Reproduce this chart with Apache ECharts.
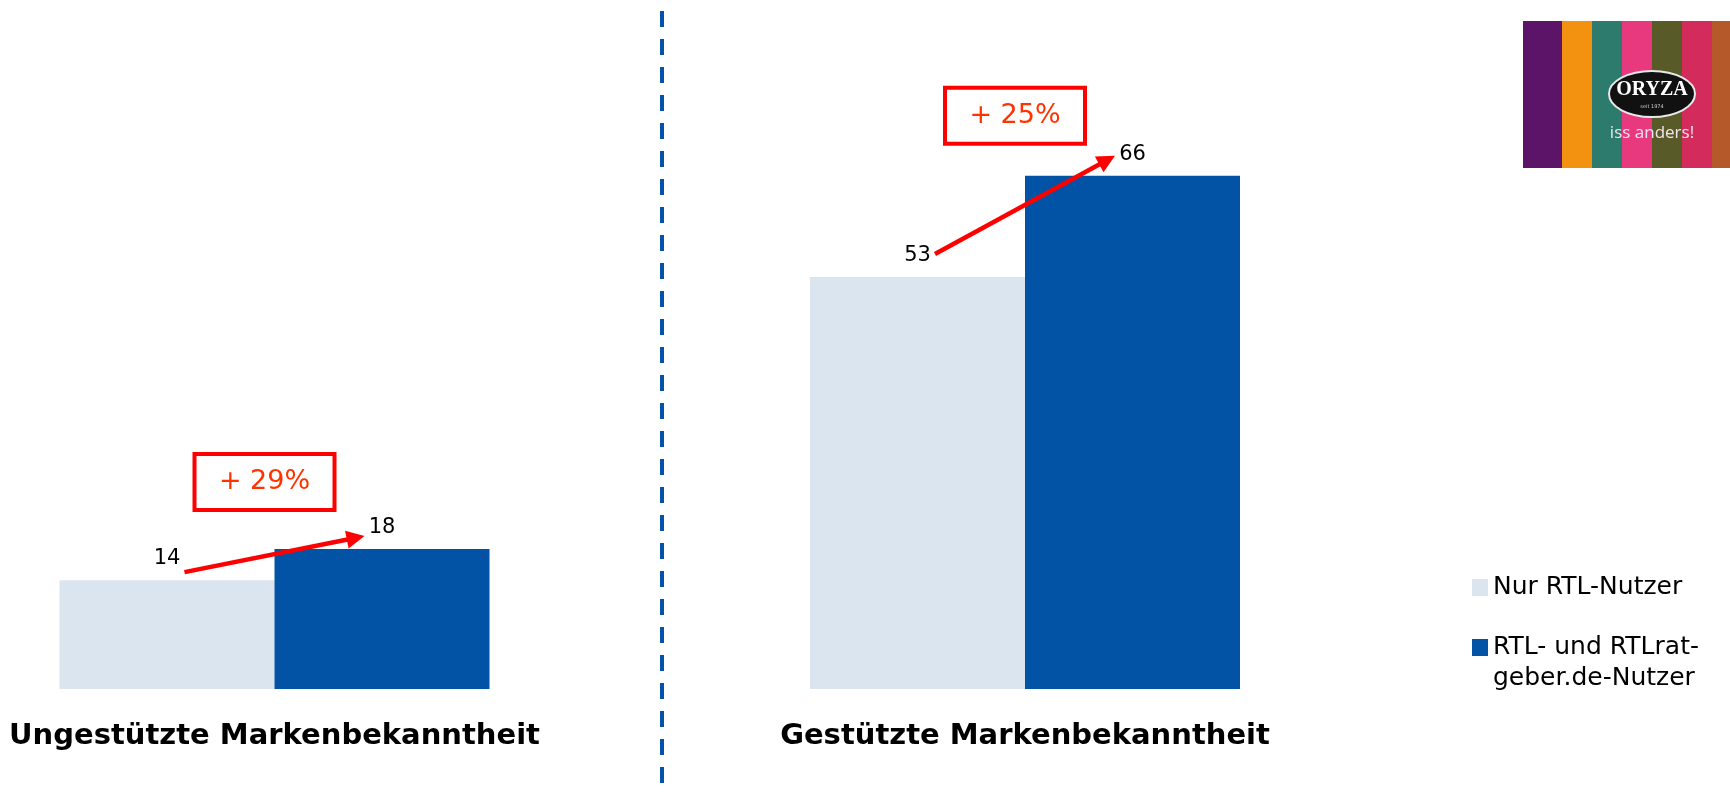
<!DOCTYPE html>
<html>
<head>
<meta charset="utf-8">
<script src="https://cdn.jsdelivr.net/npm/echarts@6/dist/echarts.min.js"></script>
<style>
  html, body { margin: 0; padding: 0; background: #fff; }
  #main { width: 1730px; height: 795px; }
</style>
</head>
<body>
<div id="main"></div>
<script>
// Daten
var categories = ['Ungestützte Markenbekanntheit', 'Gestützte Markenbekanntheit'];
var seriesNames = ['Nur RTL-Nutzer', 'RTL- und RTLrat-\ngeber.de-Nutzer'];
var nurRtl = [14, 53];
var rtlRatgeber = [18, 66];
var zuwachs = ['+ 29%', '+ 25%'];

var FONT = '"DejaVu Sans", Verdana, sans-serif';
var LIGHT = '#DAE5F0';
var DARK = '#0253A5';
var BAR_W = 215;

var chart = echarts.init(document.getElementById('main'));

var grids = [
  { left: 59, width: 431, top: 67, bottom: 106 },
  { left: 810, width: 430, top: 67, bottom: 106 }
];

var xAxes = [], yAxes = [], series = [];
categories.forEach(function (cat, i) {
  xAxes.push({
    type: 'category',
    gridIndex: i,
    data: [cat],
    axisLine: { show: false },
    axisTick: { show: false },
    axisLabel: {
      fontFamily: FONT,
      fontSize: 29,
      fontWeight: 'bold',
      color: '#000',
      margin: 33
    }
  });
  yAxes.push({ type: 'value', gridIndex: i, min: 0, max: 80, show: false });
  var lbl = { show: true, position: 'top', distance: 11, color: '#000', fontFamily: FONT, fontSize: 21 };
  series.push({
    name: seriesNames[0], type: 'bar', xAxisIndex: i, yAxisIndex: i,
    barWidth: BAR_W, barGap: '0%',
    itemStyle: { color: LIGHT },
    label: lbl,
    data: [nurRtl[i]]
  });
  series.push({
    name: seriesNames[1], type: 'bar', xAxisIndex: i, yAxisIndex: i,
    barWidth: BAR_W, barGap: '0%',
    itemStyle: { color: DARK },
    label: lbl,
    data: [rtlRatgeber[i]]
  });
});

var legendText = { fontFamily: FONT, fontSize: 25, color: '#000', lineHeight: 31 };

chart.setOption({
  animation: false,
  grid: grids,
  xAxis: xAxes,
  yAxis: yAxes,
  legend: [{
    orient: 'vertical',
    left: 1467,
    top: 567,
    itemWidth: 16,
    itemHeight: 17,
    icon: 'rect',
    selectedMode: false,
    textStyle: legendText,
    data: [seriesNames[0]]
  }, {
    // Quadrat an der ersten Textzeile ausrichten
    orient: 'vertical',
    left: 1467,
    top: 627,
    itemWidth: 16,
    itemHeight: 62,
    icon: 'path://M0,7 L16,7 L16,24 L0,24 Z M0,0 L0,62 Z',
    selectedMode: false,
    textStyle: legendText,
    data: [seriesNames[1]]
  }],
  series: series
});

// Pfeile, Zuwachs-Boxen, Trennlinie und Logo
var startLift = [8, 23];
var tipLift = [13, 20];
var boxLift = [67, 60];
var elements = [];

categories.forEach(function (cat, i) {
  var lightTop = chart.convertToPixel({ gridIndex: i }, [0, nurRtl[i]]);
  var darkTop = chart.convertToPixel({ gridIndex: i }, [0, rtlRatgeber[i]]);
  var cx = lightTop[0];
  var x1 = cx - 90, y1 = lightTop[1] - startLift[i];
  var x2 = cx + 90, y2 = darkTop[1] - tipLift[i];
  var ang = Math.atan2(y2 - y1, x2 - x1);
  var hl = 18, hw = 9;
  var bx = x2 - hl * Math.cos(ang), by = y2 - hl * Math.sin(ang);
  elements.push({
    type: 'line', z: 20,
    shape: { x1: x1, y1: y1, x2: bx + 2 * Math.cos(ang), y2: by + 2 * Math.sin(ang) },
    style: { stroke: '#FF0000', lineWidth: 4.5 }
  });
  elements.push({
    type: 'polygon', z: 20,
    shape: { points: [
      [x2, y2],
      [bx - hw * Math.sin(ang), by + hw * Math.cos(ang)],
      [bx + hw * Math.sin(ang), by - hw * Math.cos(ang)]
    ] },
    style: { fill: '#FF0000' }
  });
  var bcx = cx - 10, bcy = darkTop[1] - boxLift[i];
  elements.push({
    type: 'rect', z: 20,
    shape: { x: bcx - 70, y: bcy - 28, width: 140, height: 56 },
    style: { fill: '#fff', stroke: '#FF0000', lineWidth: 4 }
  });
  elements.push({
    type: 'text', z: 21,
    x: bcx, y: bcy,
    style: { text: zuwachs[i], fill: '#FF3300', font: '27px ' + FONT, align: 'center', verticalAlign: 'middle' }
  });
});

elements.push({
  type: 'line',
  shape: { x1: 662, y1: 11, x2: 662, y2: 795 },
  style: { stroke: '#0254A8', lineWidth: 4, lineDash: [16, 12] }
});

// Logo
var stripeColors = ['#5C1468', '#F39110', '#2D7B6D', '#E8397E', '#585A28', '#D22B5C', '#B5582A'];
var stripeEdges = [1523, 1562, 1592, 1622, 1652, 1682, 1712, 1730];
stripeColors.forEach(function (c, k) {
  elements.push({
    type: 'rect',
    shape: { x: stripeEdges[k], y: 21, width: stripeEdges[k + 1] - stripeEdges[k], height: 147 },
    style: { fill: c }
  });
});
elements.push({
  type: 'ellipse',
  shape: { cx: 1652, cy: 94, rx: 43, ry: 23 },
  style: { fill: '#111', stroke: '#E8E8E8', lineWidth: 2 }
});
elements.push({
  type: 'text', x: 1652, y: 90,
  style: { text: 'ORYZA', fill: '#fff', font: 'bold 20px "Liberation Serif", serif', align: 'center', verticalAlign: 'middle' }
});
elements.push({
  type: 'text', x: 1652, y: 107,
  style: { text: 'seit 1974', fill: '#ccc', font: '5px ' + FONT, align: 'center', verticalAlign: 'middle' }
});
elements.push({
  type: 'text', x: 1652, y: 133,
  style: { text: 'iss anders!', fill: '#F2E6EE', font: '17px "Open Sans", sans-serif', align: 'center', verticalAlign: 'middle' }
});

chart.setOption({ graphic: { elements: elements } });
</script>
</body>
</html>
